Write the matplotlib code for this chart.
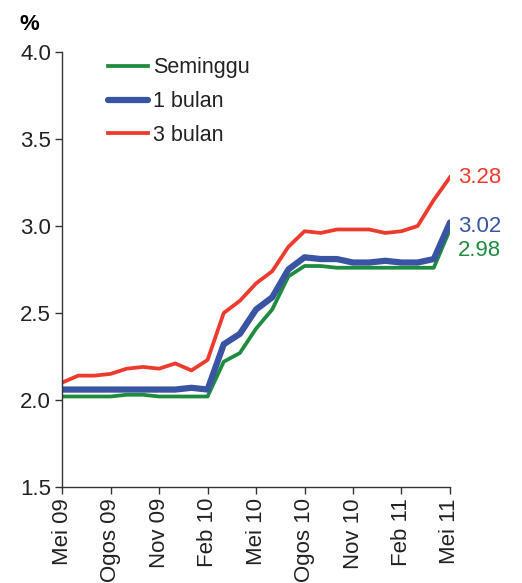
import matplotlib
matplotlib.use("Agg")
import matplotlib.pyplot as plt
import numpy as np

plt.rcParams['font.family'] = ['Liberation Sans', 'DejaVu Sans']

months = ["Mei 09", "Jun 09", "Jul 09", "Ogos 09", "Sep 09", "Okt 09", "Nov 09", "Dis 09",
          "Jan 10", "Feb 10", "Mac 10", "Apr 10", "Mei 10", "Jun 10", "Jul 10", "Ogos 10",
          "Sep 10", "Okt 10", "Nov 10", "Dis 10", "Jan 11", "Feb 11", "Mac 11", "Apr 11", "Mei 11"]

seminggu = [2.02, 2.02, 2.02, 2.02, 2.03, 2.03, 2.02, 2.02, 2.02, 2.02,
            2.22, 2.27, 2.41, 2.52, 2.71, 2.77, 2.77, 2.76, 2.76, 2.76,
            2.76, 2.76, 2.76, 2.76, 2.98]
bulan1 = [2.06, 2.06, 2.06, 2.06, 2.06, 2.06, 2.06, 2.06, 2.07, 2.06,
          2.32, 2.38, 2.52, 2.59, 2.75, 2.82, 2.81, 2.81, 2.79, 2.79,
          2.80, 2.79, 2.79, 2.81, 3.02]
bulan3 = [2.10, 2.14, 2.14, 2.15, 2.18, 2.19, 2.18, 2.21, 2.17, 2.23,
          2.50, 2.57, 2.67, 2.74, 2.88, 2.97, 2.96, 2.98, 2.98, 2.98,
          2.96, 2.97, 3.00, 3.15, 3.28]

tick_labels = ["Mei 09", "Ogos 09", "Nov 09", "Feb 10", "Mei 10", "Ogos 10", "Nov 10", "Feb 11", "Mei 11"]

green = "#1F8B3F"
blue = "#3A54A4"
red = "#EE3A2C"

fig = plt.figure(figsize=(5.22, 5.83), dpi=100)
ax = fig.add_axes([0.119, 0.1647, 0.743, 0.7461])

x = np.arange(len(months))
ax.plot(x, seminggu, color=green, lw=2.7, label="Seminggu", solid_joinstyle='round')
ax.plot(x, bulan1, color=blue, lw=4.5, label="1 bulan", solid_joinstyle='round',
        solid_capstyle='round')
ax.plot(x, bulan3, color=red, lw=2.7, label="3 bulan", solid_joinstyle='round')

ax.set_xlim(0, len(months) - 1)
ax.set_ylim(1.5, 4.0)
ax.set_yticks([1.5, 2.0, 2.5, 3.0, 3.5, 4.0])
ax.set_yticklabels(["1.5", "2.0", "2.5", "3.0", "3.5", "4.0"])
ax.set_xticks(x[::3])
ax.set_xticklabels(tick_labels, rotation=90)

for s in ["top", "right"]:
    ax.spines[s].set_visible(False)
for s in ["left", "bottom"]:
    ax.spines[s].set_color("#333333")
    ax.spines[s].set_linewidth(1.0)
ax.tick_params(axis='both', labelsize=16, color="#333333", length=5, width=1.0, pad=3,
               labelcolor="#222222")

ax.legend(loc="upper left", bbox_to_anchor=(0.095, 1.008), frameon=False, fontsize=15.5,
          handlelength=1.9, handletextpad=0.2, labelspacing=0.6, borderaxespad=0,
          labelcolor="#222222")

last = len(months) - 1
ax.annotate(f"{bulan3[-1]:.2f}", xy=(last, bulan3[-1]), xytext=(6, 0), textcoords="offset points",
            color=red, fontsize=16, va="center", ha="left", annotation_clip=False)
ax.annotate(f"{bulan1[-1]:.2f}", xy=(last, bulan1[-1]), xytext=(6, -3), textcoords="offset points",
            color=blue, fontsize=16, va="center", ha="left", annotation_clip=False)
ax.annotate(f"{seminggu[-1]:.2f}", xy=(last, seminggu[-1]), xytext=(6, -15), textcoords="offset points",
            color=green, fontsize=16, va="center", ha="left", annotation_clip=False)

fig.text(0.038, 0.958, "%", fontsize=16, fontweight="bold", ha="left", va="center")

fig.savefig("out.png", dpi=100)
